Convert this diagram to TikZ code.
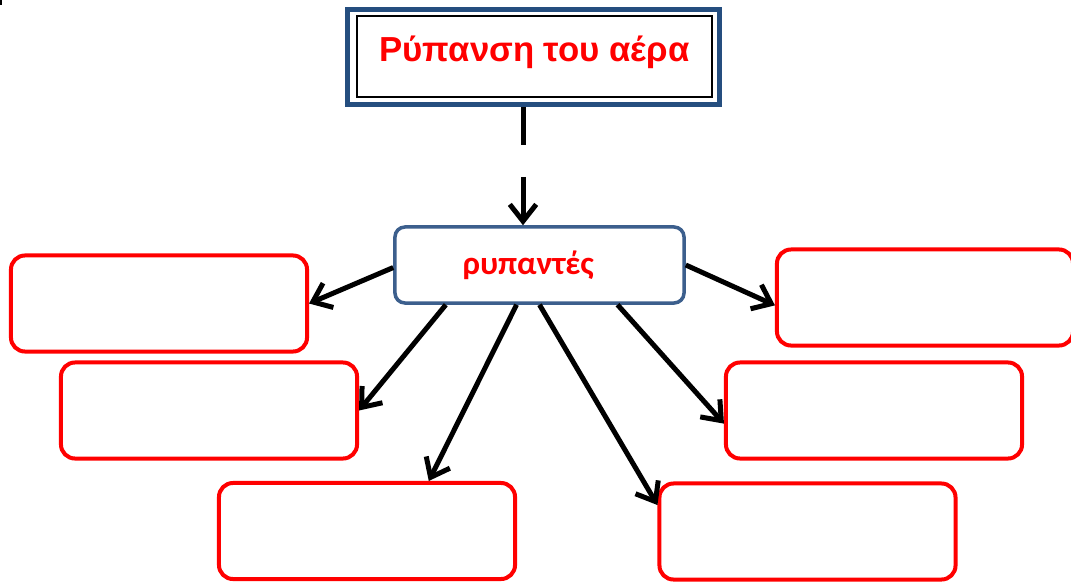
\documentclass[tikz,border=0pt]{standalone}
\usepackage{fontspec}
\setmainfont{Liberation Sans}
\newfontfamily\calibri{Carlito}
\usepackage{xcolor}
\usetikzlibrary{arrows.meta}
\colorlet{answerred}{red}
\definecolor{frameblue}{HTML}{254E7F}
\definecolor{boxblue}{HTML}{3C5F8D}

\begin{document}
\begin{tikzpicture}[x=0.025cm,y=-0.025cm,
  answer/.style={draw=answerred,line width=0.1cm,rounded corners=0.35cm,minimum width=7.4cm,minimum height=2.4cm},
  link/.style={line width=0.125cm,-{Straight Barb[length=0.42cm,width=0.66cm]}}]

  \useasboundingbox (0,0) rectangle (1071,584);
  \fill (0,0) rectangle (2,5);

%  Title
  \node[draw=frameblue,line width=0.125cm,minimum width=9.3cm,minimum height=2.375cm] (title) at (533.5,57) {};
  \node[draw=black,line width=0.05cm,minimum width=8.875cm,minimum height=2.025cm,
        text=red,font=\bfseries\fontsize{24.7}{29}\selectfont,text height=18pt,text depth=11pt] (titlein) at (534.5,56.5) {Ρύπανση του αέρα};

%  Pollutants
  \node[draw=boxblue,fill=white,line width=0.0875cm,rounded corners=0.25cm,minimum width=7.225cm,minimum height=1.9cm,
        text=red,font=\calibri\bfseries\fontsize{23.5}{27}\selectfont] (ryp) at (539.5,265) {ρυπαντές\kern16pt};

  \coordinate (gapA) at (523,145);
  \coordinate (gapB) at (523,177);
  \draw[line width=0.125cm] (title.south -| gapA) -- (gapA);
  \draw[link] (gapB) -- (ryp.north -| gapB);

%  Empty boxes
  \node[answer] (box1) at (159,303.5) {};
  \node[answer] (box2) at (209,410.5) {};
  \node[answer] (box3) at (367,531) {};
  \node[answer] (box4) at (807.5,531.5) {};
  \node[answer] (box5) at (874,410.5) {};
  \node[answer] (box6) at (925,297.5) {};

  \draw[link] (ryp.181) -- (box1.east);
  \draw[link] (ryp.203) -- (box2.east);
  \draw[link] (ryp.240) -- (box3.39);
  \draw[link] (ryp.south) -- (box4.170);
  \draw[link] (ryp.333) -- (box5.185);
  \draw[link] (ryp.east) -- (box6.183);

\end{tikzpicture}
\end{document}
